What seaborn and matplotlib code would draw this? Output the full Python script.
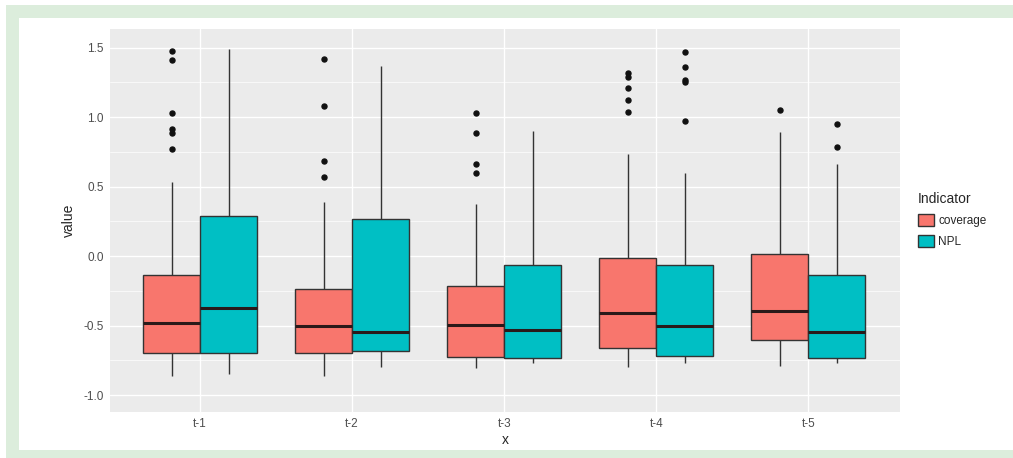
import pandas as pd
import matplotlib
matplotlib.use("Agg")
import matplotlib.pyplot as plt
import seaborn as sns
from matplotlib.patches import Rectangle
from matplotlib.ticker import MultipleLocator

# box statistics
periods = ["t-1", "t-2", "t-3", "t-4", "t-5"]
indicators = ["coverage", "NPL"]

cov_low = [-0.866, -0.866, -0.807, -0.795, -0.790]
cov_q1 = [-0.700, -0.700, -0.723, -0.663, -0.603]
cov_med = [-0.483, -0.500, -0.495, -0.407, -0.393]
cov_q3 = [-0.136, -0.240, -0.215, -0.012, 0.012]
cov_high = [0.533, 0.390, 0.373, 0.732, 0.897]
cov_out = [
    [1.474, 1.414, 1.029, 0.917, 0.885, 0.768],
    [1.421, 1.082, 0.682, 0.569],
    [1.031, 0.885, 0.660, 0.598],
    [1.316, 1.287, 1.208, 1.125, 1.041],
    [1.053],
]

npl_low = [-0.850, -0.795, -0.770, -0.766, -0.766]
npl_q1 = [-0.694, -0.684, -0.735, -0.718, -0.730]
npl_med = [-0.376, -0.543, -0.531, -0.500, -0.543]
npl_q3 = [0.287, 0.270, -0.065, -0.062, -0.136]
npl_high = [1.490, 1.371, 0.900, 0.598, 0.665]
npl_out = [
    [],
    [],
    [],
    [1.467, 1.359, 1.271, 1.256, 0.971],
    [0.948, 0.782],
]

palette = ["#F8766D", "#00BFC4"]


def group_values(low, q1, med, q3, high, outliers):
    # long-form sample whose quartiles / whiskers equal the read statistics
    return [low] + [q1] * 20 + [med] * 20 + [q3] * 20 + [high] + list(outliers)


rows = []
stats = {
    "coverage": (cov_low, cov_q1, cov_med, cov_q3, cov_high, cov_out),
    "NPL": (npl_low, npl_q1, npl_med, npl_q3, npl_high, npl_out),
}
for ind in indicators:
    lo, q1, md, q3, hi, out = stats[ind]
    for i, p in enumerate(periods):
        for v in group_values(lo[i], q1[i], md[i], q3[i], hi[i], out[i]):
            rows.append({"x": p, "Indicator": ind, "value": v})
df = pd.DataFrame(rows)

sns.set_theme(style="darkgrid", rc={
    "axes.facecolor": "#EBEBEB",
    "grid.color": "white",
    "grid.linewidth": 1.0,
    "xtick.major.size": 2.5,
    "ytick.major.size": 2.5,
    "xtick.major.width": 0.8,
    "ytick.major.width": 0.8,
    "xtick.color": "#333333",
    "ytick.color": "#333333",
    "xtick.labelcolor": "#4D4D4D",
    "ytick.labelcolor": "#4D4D4D",
    "xtick.major.pad": 2,
    "ytick.major.pad": 2,
})
plt.rcParams["font.family"] = ["Liberation Sans", "DejaVu Sans"]

fig = plt.figure(figsize=(10.13, 4.58), dpi=100)

# light green frame around the figure
fig.patches.append(Rectangle((6 / 1013, 0), 1 - 6 / 1013, (458 - 5) / 458,
                             transform=fig.transFigure, facecolor="#DCEDDC",
                             edgecolor="none", zorder=-2))
fig.patches.append(Rectangle((19 / 1013, 8 / 458), 1 - 19 / 1013, (450 - 18) / 458,
                             transform=fig.transFigure, facecolor="white",
                             edgecolor="none", zorder=-1))

ax = fig.add_axes([110 / 1013, 1 - 412 / 458, 790 / 1013, 383 / 458])

sns.boxplot(
    data=df, x="x", y="value", hue="Indicator",
    order=periods, hue_order=indicators, palette=palette,
    saturation=1, width=0.75, gap=0, dodge=True,
    linecolor="#333333", linewidth=1.0, fliersize=3.6,
    showcaps=False,
    medianprops={"color": "#2a1a1a", "linewidth": 2.2},
    flierprops={"marker": "o", "markerfacecolor": "#111111",
                "markeredgecolor": "#111111", "markersize": 3.6},
    ax=ax,
)

ax.set_xlim(-0.592, 4.603)
ax.set_ylim(-1.122, 1.635)
ax.set_yticks([-1.0, -0.5, 0.0, 0.5, 1.0, 1.5])
ax.set_yticklabels(["-1.0", "-0.5", "0.0", "0.5", "1.0", "1.5"])
ax.yaxis.set_minor_locator(MultipleLocator(0.25))
ax.grid(which="minor", axis="y", color="white", linewidth=0.5)
ax.xaxis.grid(True)
ax.set_axisbelow(True)
ax.tick_params(axis="both", labelsize=8.5, direction="out")
ax.tick_params(axis="y", which="minor", length=0)
sns.despine(ax=ax, left=True, bottom=True)

ax.set_xlabel("x", fontsize=10, labelpad=2)
ax.set_ylabel("value", fontsize=10, labelpad=5)

handles, labels = ax.get_legend_handles_labels()
ax.legend(
    handles, labels, title="Indicator",
    loc="upper left", bbox_to_anchor=(918 / 1013, 1 - 192 / 458),
    bbox_transform=fig.transFigure, frameon=False,
    fontsize=8.5, title_fontsize=10, alignment="left",
    borderpad=0, borderaxespad=0, handlelength=1.36, handleheight=1.2,
    labelspacing=0.68, handletextpad=0.34,
)

fig.savefig("out.png", dpi=100)
